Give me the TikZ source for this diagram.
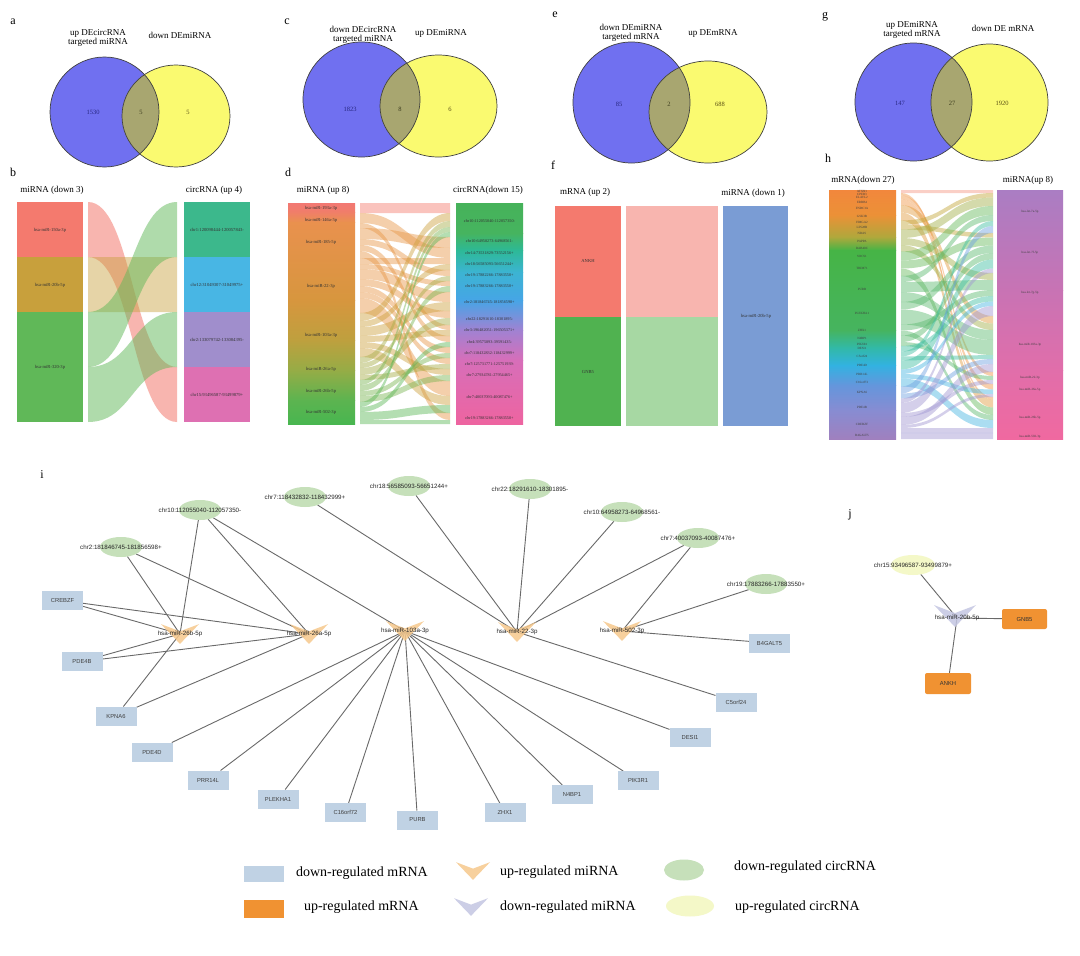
\documentclass[tikz,border=0pt]{standalone}
\usepackage{fontspec}
\setmainfont{Liberation Serif}
\newfontfamily\netfont{Liberation Sans}
\usetikzlibrary{shapes.geometric}
\pgfdeclarelayer{paper}
\pgfdeclarelayer{bg}
\pgfdeclarelayer{mid}
\pgfsetlayers{paper,bg,mid,main}
% venn
\definecolor{vblue}{RGB}{112,112,240}
\definecolor{vyel}{RGB}{250,250,112}
\definecolor{vmix}{RGB}{168,166,112}
\definecolor{nblue}{RGB}{40,40,130}
\definecolor{nmix}{RGB}{60,60,30}
\definecolor{nyel}{RGB}{90,80,20}
% sankey
\definecolor{sred}{RGB}{244,122,110}
\definecolor{sgold}{RGB}{200,160,60}
\definecolor{sgreen}{RGB}{96,184,88}
\definecolor{fgreen}{RGB}{80,178,80}
\definecolor{steal}{RGB}{60,184,140}
\definecolor{sblue}{RGB}{72,182,228}
\definecolor{spurp}{RGB}{160,142,204}
\definecolor{spink}{RGB}{222,112,178}
\definecolor{fblue}{RGB}{122,156,212}
\definecolor{dor}{RGB}{232,150,70}
\definecolor{dol}{RGB}{205,160,60}
\definecolor{dolg}{RGB}{165,172,70}
\definecolor{dgra}{RGB}{120,180,80}
\definecolor{dgrb}{RGB}{90,182,85}
\definecolor{dla}{RGB}{242,120,115}\definecolor{dlb}{RGB}{240,126,105}
\definecolor{dlc}{RGB}{233,145,78}\definecolor{dld}{RGB}{215,150,62}
\definecolor{dle}{RGB}{190,160,62}\definecolor{dlf}{RGB}{150,172,70}
\definecolor{dlg}{RGB}{92,180,80}\definecolor{dlh}{RGB}{72,182,80}
\definecolor{dra}{RGB}{70,178,90}\definecolor{drb}{RGB}{70,180,95}
\definecolor{drc}{RGB}{45,185,150}\definecolor{drd}{RGB}{60,180,210}
\definecolor{dre}{RGB}{70,165,230}\definecolor{drf}{RGB}{160,130,210}
\definecolor{drg}{RGB}{215,110,185}\definecolor{drh}{RGB}{238,100,160}
\definecolor{hla}{RGB}{242,135,60}\definecolor{hlb}{RGB}{235,145,55}
\definecolor{hlc}{RGB}{175,168,60}\definecolor{hld}{RGB}{70,180,70}
\definecolor{hle}{RGB}{70,180,95}\definecolor{hlf}{RGB}{50,185,165}
\definecolor{hlg}{RGB}{50,178,225}\definecolor{hlh}{RGB}{100,150,220}
\definecolor{hli}{RGB}{135,140,210}\definecolor{hlj}{RGB}{160,128,190}
\definecolor{hra}{RGB}{170,125,195}\definecolor{hrb}{RGB}{200,115,180}
\definecolor{hrc}{RGB}{225,110,170}\definecolor{hrd}{RGB}{240,105,160}
\definecolor{hca}{RGB}{245,150,130}\definecolor{hcb}{RGB}{240,150,70}
\definecolor{hcc}{RGB}{225,155,60}\definecolor{hcd}{RGB}{195,165,55}
\definecolor{hce}{RGB}{160,175,70}\definecolor{hcf}{RGB}{100,185,90}
\definecolor{hcg}{RGB}{90,185,110}\definecolor{hch}{RGB}{60,190,160}
\definecolor{hci}{RGB}{70,180,225}\definecolor{hcj}{RGB}{110,160,225}
\definecolor{hck}{RGB}{160,150,210}
% network
\definecolor{nodegreen}{RGB}{198,224,186}
\definecolor{nodeyel}{RGB}{244,248,200}
\definecolor{boxblue}{RGB}{192,210,228}
\definecolor{boxorange}{RGB}{240,146,50}
\definecolor{vup}{RGB}{246,200,140}
\definecolor{vdown}{RGB}{196,198,226}
\definecolor{edgegray}{RGB}{105,105,105}

\def\setoff#1#2{\expandafter\xdef\csname OF#1\endcsname{#2}}
\newcommand\band[7]{%
  \edef\bya{\csname OF#3\endcsname}%
  \pgfmathsetmacro\byb{\bya+#5}%
  \edef\byc{\csname OF#4\endcsname}%
  \pgfmathsetmacro\byd{\byc+#5}%
  \setoff{#3}{\byb}\setoff{#4}{\byd}%
  \pgfmathsetmacro\bxm{(#1+#2)/2}%
  \fill[#6,fill opacity=#7] (#1,\bya) .. controls (\bxm,\bya) and (\bxm,\byc) .. (#2,\byc) -- (#2,\byd) .. controls (\bxm,\byd) and (\bxm,\byb) .. (#1,\byb) -- cycle;%
}
\newcommand\vennpair[8]{%
  \fill[vblue] (#1,#2) ellipse [x radius=#3pt,y radius=#4pt];
  \fill[vyel] (#5,#6) ellipse [x radius=#7pt,y radius=#8pt];
  \begin{scope}
    \clip (#1,#2) ellipse [x radius=#3pt,y radius=#4pt];
    \fill[vmix] (#5,#6) ellipse [x radius=#7pt,y radius=#8pt];
  \end{scope}
  \draw[line width=0.7pt,black!75] (#1,#2) ellipse [x radius=#3pt,y radius=#4pt];
  \draw[line width=0.7pt,black!75] (#5,#6) ellipse [x radius=#7pt,y radius=#8pt];
}
\newcommand\vshape[3]{\fill[#2,fill opacity=0.85,shift={(#1)}] (-#3,-0.52*#3) -- (0,-0.14*#3) -- (#3,-0.52*#3) -- (0,0.52*#3) -- cycle;}

\begin{document}
\begin{tikzpicture}[x=1pt,y=-1pt,
  every node/.style={inner sep=0pt,outer sep=0pt},
  plabel/.style={font=\fontsize{12}{12}\selectfont},
  vlab/.style={font=\fontsize{9}{10}\selectfont,align=center},
  vnum/.style={font=\fontsize{6.5}{7}\selectfont},
  coltitle/.style={font=\fontsize{9}{10}\selectfont},
  slab/.style={font=\fontsize{4.6}{5}\selectfont,text=black!80},
  tlab/.style={font=\fontsize{3.2}{3.5}\selectfont,text=black!75},
  netlab/.style={font=\netfont\fontsize{6.2}{7}\selectfont,text=black!85},
  circnode/.style={ellipse,fill=nodegreen,minimum width=42pt,minimum height=20pt,netlab},
  ucircnode/.style={circnode,fill=nodeyel},
  mirlab/.style={netlab},
  genebox/.style={rectangle,fill=boxblue,minimum width=41pt,minimum height=19pt,font=\netfont\fontsize{5.8}{7}\selectfont,text=black!75},
  upbox/.style={genebox,fill=boxorange,rounded corners=2pt,minimum width=45pt,minimum height=20pt,text=black!80},
  edge/.style={draw=edgegray,line width=0.9pt},
  legtext/.style={anchor=west,font=\fontsize{14}{15}\selectfont}]
\useasboundingbox (0,0) rectangle (1080,956);
\begin{pgfonlayer}{paper}
\fill[white] (0,0) rectangle (1080,956);
\end{pgfonlayer}

% ---------- panel letters ----------
\node[plabel] (La) at (13,22) {a};
\node[plabel] (Lb) at (13,172) {b};
\node[plabel] (Lc) at (287,22) {c};
\node[plabel] (Ld) at (288,172) {d};
\node[plabel] (Le) at (555,15) {e};
\node[plabel] (Lf) at (553,165) {f};
\node[plabel] (Lg) at (825,17) {g};
\node[plabel] (Lh) at (828,158) {h};
\node[plabel] (Li) at (42,475) {i};
\node[plabel] (Lj) at (850,515) {j};

% ---------- Venn a ----------
\vennpair{104.5}{112}{54.5}{55}{176}{116}{54}{51}
\node[vlab] (a1) at (98,38) {up DEcircRNA\\[-1pt]targeted miRNA};
\node[vlab] (a2) at (180,35) {down DEmiRNA};
\node[vnum,text=nblue] (a3) at (93,112) {1530};
\node[vnum,text=nmix] (a4) at (141,112) {5};
\node[vnum,text=nyel] (a5) at (188,112) {5};
% ---------- Venn c ----------
\vennpair{361.5}{99.5}{58.5}{57.5}{438.5}{106}{58.5}{51}
\node[vlab] (c1t) at (363,35) {down DEcircRNA\\[-1pt]targeted miRNA};
\node[vlab] (c2t) at (441,33) {up DEmiRNA};
\node[vnum,text=nblue] (c3t) at (350,109) {1823};
\node[vnum,text=nmix] (c4t) at (400,109) {8};
\node[vnum,text=nyel] (c5t) at (450,109) {6};
% ---------- Venn e ----------
\vennpair{631.5}{102.5}{58.5}{60.5}{708}{112}{59}{51}
\node[vlab] (e1t) at (631,33) {down DEmiRNA\\[-1pt]targeted mRNA};
\node[vlab] (e2t) at (713,33) {up DEmRNA};
\node[vnum,text=nblue] (e3t) at (619,104) {85};
\node[vnum,text=nmix] (e4t) at (669,104) {2};
\node[vnum,text=nyel] (e5t) at (720,104) {688};
% ---------- Venn g ----------
\vennpair{913.5}{102}{58.5}{59}{989.5}{102.5}{58.5}{58.5}
\node[vlab] (g1t) at (912,30) {up DEmiRNA\\[-1pt]targeted mRNA};
\node[vlab] (g2t) at (1003,28) {down DE mRNA};
\node[vnum,text=nblue] (g3t) at (900,103) {147};
\node[vnum,text=nmix] (g4t) at (952,103) {27};
\node[vnum,text=nyel] (g5t) at (1002,103) {1920};

% ---------- Sankey b ----------
\node[coltitle] (bt1) at (52,190) {miRNA (down 3)};
\node[coltitle] (bt2) at (214,190) {circRNA (up 4)};
\fill[sred] (17,202) rectangle (83,257);
\fill[sgold] (17,257) rectangle (83,312);
\fill[sgreen] (17,312) rectangle (83,422);
\fill[steal] (184,202) rectangle (250,257);
\fill[sblue] (184,257) rectangle (250,312);
\fill[spurp] (184,312) rectangle (250,367);
\fill[spink] (184,367) rectangle (250,422);
\foreach \k/\v in {1/202,2/257,3/312}{\setoff{bL\k}{\v}}
\foreach \k/\v in {1/202,2/257,3/312,4/367}{\setoff{bR\k}{\v}}
\band{88}{177}{bL1}{bR4}{55}{sred}{0.55}
\band{88}{177}{bL2}{bR2}{55}{sgold}{0.45}
\band{88}{177}{bL3}{bR1}{55}{sgreen}{0.5}
\band{88}{177}{bL3}{bR3}{55}{sgreen}{0.5}
\node[slab] (bs1) at (50,230) {hsa-miR-150a-3p};
\node[slab] (bs2) at (50,285) {hsa-miR-20b-5p};
\node[slab] (bs3) at (50,367) {hsa-miR-320-3p};
\node[slab] (bs4) at (217,230) {chr1:120098444-120057843-};
\node[slab] (bs5) at (217,285) {chr12:31049307-31049975+};
\node[slab] (bs6) at (217,340) {chr2:133079742-133084395-};
\node[slab] (bs7) at (217,395) {chr15:93496587-93499879+};

% ---------- Sankey d ----------
\node[coltitle] (dt1) at (323,190) {miRNA (up 8)};
\node[coltitle] (dt2) at (488,190) {circRNA(down 15)};
\foreach \ya/\yb/\ca/\cb in {203/212/dla/dlb,212/222/dlb/dlc,222/300/dlc/dld,300/340/dld/dle,340/370/dle/dlf,370/400/dlf/dlg,400/424/dlg/dlh}
  {\shade[top color=\ca,bottom color=\cb] (288,\ya) rectangle (355,\yb+0.4);}
\foreach \ya/\yb/\ca/\cb in {203/233/dra/drb,233/250/drb/drc,250/272/drc/drd,272/300/drd/dre,300/330/dre/drf,330/360/drf/drg,360/424/drg/drh}
  {\shade[top color=\ca,bottom color=\cb] (456,\ya) rectangle (523,\yb+0.4);}
\foreach \k/\v in {1/203,2/213,3/228,4/258,5/313,6/357,7/380,8/402}{\setoff{dL\k}{\v}}
\foreach \k/\v in {1/203,2/237,3/248,4/258,5/270,6/281,7/292,8/311,9/325,10/336,11/347,12/358,13/369,14/381,15/413}{\setoff{dR\k}{\v}}
\foreach \s/\t/\w/\cc in {1/1/10/sred,2/3/10/dor,2/9/5/dor,3/2/11/dor,3/5/6/dor,3/10/6/dor,3/15/7/dor,4/4/6/dor,4/6/5/dor,4/7/10/dor,4/8/7/dor,4/11/6/dor,4/12/6/dor,4/14/15/dor,5/1/8/dol,5/4/6/dol,5/7/9/dol,5/9/6/dol,5/13/6/dol,5/14/9/dol,6/1/6/dolg,6/5/5/dolg,6/8/7/dolg,6/12/5/dolg,7/1/5/dgra,7/6/6/dgra,7/11/5/dgra,7/13/6/dgra,8/1/5/dgrb,8/10/5/dgrb,8/14/8/dgrb,8/15/4/dgrb}
  {\band{360}{450}{dL\s}{dR\t}{\w}{\cc}{0.45}}
\foreach \y/\t [count=\i] in {208/hsa-miR-193a-3p,220/hsa-miR-146a-5p,242/hsa-miR-185-5p,286/hsa-miR-22-3p,335/hsa-miR-103a-3p,369/hsa-miR-26a-5p,391/hsa-miR-26b-5p,412/hsa-miR-502-3p}
  {\node[slab] (dsl\i) at (321,\y) {\t};}
\foreach \y/\t [count=\i] in {221/chr10:112055040-112057350-,241/chr10:64958273-64968561-,253/chr14:73531829-73552156+,264/chr18:56585093-56651244+,275/chr19:17882266-17883550+,286/chr19:17883266-17883550+,302/chr2:181846745-181856598+,319/chr22:18291610-18301895-,330/chr3:196482051-196505371+,342/chr4:39575893-39591435-,353/chr7:118432832-118432999+,364/chr7:125731771-125751939-,375/chr7:27934781-27954465+,397/chr7:40037093-40087476+,418/chr19:17883266-17883550+}
  {\node[slab,font=\fontsize{4.2}{5}\selectfont] (dsr\i) at (489.5,\y) {\t};}

% ---------- Sankey f ----------
\node[coltitle] (ft1) at (585,192) {mRNA (up 2)};
\node[coltitle] (ft2) at (753,193) {miRNA (down 1)};
\fill[sred] (555,206) rectangle (621,317);
\fill[fgreen] (555,317) rectangle (621,426);
\fill[fblue] (723,206) rectangle (788,426);
\fill[sred,fill opacity=0.55] (626,206) rectangle (718,317);
\fill[sgreen,fill opacity=0.55] (626,317) rectangle (718,426);
\node[slab] (fs1) at (588,261) {ANKH};
\node[slab] (fs2) at (588,372) {GNB5};
\node[slab] (fs3) at (756,316) {hsa-miR-20b-5p};

% ---------- Sankey h ----------
\node[coltitle] (ht1) at (863,180) {mRNA(down 27)};
\node[coltitle] (ht2) at (1028,180) {miRNA(up 8)};
\foreach \ya/\yb/\ca/\cb in {190/215/hla/hlb,215/237/hlb/hlc,237/250/hlc/hld,250/330/hld/hle,330/347/hle/hlf,347/365/hlf/hlg,365/385/hlg/hlh,385/410/hlh/hli,410/439/hli/hlj}
  {\shade[top color=\ca,bottom color=\cb] (829,\ya) rectangle (896,\yb+0.4);}
\foreach \ya/\yb/\ca/\cb in {190/290/hra/hrb,290/370/hrb/hrc,370/439/hrc/hrd}
  {\shade[top color=\ca,bottom color=\cb] (997,\ya) rectangle (1063,\yb+0.4);}
\foreach \k/\v in {1/190,2/193,3/195.5,4/199.5,5/205,6/212.5,7/220.5,8/225,9/229.5,10/238,11/245,12/251.5,13/260.5,14/276,15/302,16/324.5,17/335.5,18/342,19/346,20/351.5,21/360.5,22/369.5,23/378.5,24/386.5,25/398.5,26/417,27/432}{\setoff{hL\k}{\v}}
\foreach \k/\v in {1/190,2/233,3/273,4/316,5/372,6/384,7/397,8/433}{\setoff{hR\k}{\v}}
\foreach \s/\t/\w/\cc in {1/1/3/hca,2/7/2.5/hcb,3/5/4/hcb,4/6/5.5/hcb,5/4/7.5/hcc,6/7/8/hcc,7/1/4.5/hcd,8/2/4.5/hcd,9/1/8.5/hce,10/3/7/hce,11/4/6.5/hce,12/1/9/hcf,13/2/8/hcf,13/7/7.5/hcf,14/1/6/hcg,14/3/10/hcg,14/4/10/hcg,15/2/7.5/hcg,15/4/15/hcg,16/3/6/hcg,16/7/5/hcg,17/2/6.5/hcg,18/5/4/hcg,19/3/5.5/hch,20/1/5/hch,20/4/4/hch,21/2/9/hch,22/3/4.5/hci,22/6/4.5/hci,23/7/8/hci,24/1/7/hcj,24/4/5/hcj,25/2/4.5/hck,25/3/10/hck,25/5/4/hck,26/4/8/hck,26/6/3/hck,26/7/4/hck,27/7/1/hck,27/8/6/hck}
  {\band{901}{993}{hL\s}{hR\t}{\w}{\cc}{0.45}}
\foreach \y/\t [count=\i] in {191.5/ATXN1,194.3/CPEB3,197.5/ELAVL2,202.3/ERBB4,208.8/FNDC3A,216.5/GSK3B,222.8/HMGA2,227.3/LIN28B,233.8/NRAS,241.5/PAPPA,248.3/RAB40C,256/SOCS1,268.3/TRIM71,289/PURB,313.3/PLEKHA1,330/ZHX1,338.8/N4BP1,344/PIK3R1,348.8/DESI1,356/C5orf24,365/PDE4D,374/PRR14L,382.5/C16orf72,392.5/KPNA6,407.8/PDE4B,424.5/CREBZF,435.5/B4GALT5}
  {\node[tlab] (hsl\i) at (862,\y) {\t};}
\foreach \y/\t [count=\i] in {212/hsa-let-7a-5p,253/hsa-let-7f-5p,293/hsa-let-7g-5p,345/hsa-miR-103a-3p,378/hsa-miR-22-3p,390/hsa-miR-26a-5p,418/hsa-miR-26b-5p,437/hsa-miR-502-3p}
  {\node[tlab] (hsr\i) at (1030,\y) {\t};}

% ---------- network i ----------
\node[circnode] (c1) at (200,510) {\makebox[0pt]{chr10:112055040-112057350-}};
\node[circnode] (c2) at (121,547) {\makebox[0pt]{chr2:181846745-181856598+}};
\node[circnode] (c3) at (305,497) {\makebox[0pt]{chr7:118432832-118432999+}};
\node[circnode] (c4) at (409,486) {\makebox[0pt]{chr18:56585093-56651244+}};
\node[circnode] (c5) at (530,489) {\makebox[0pt]{chr22:18291610-18301895-}};
\node[circnode] (c6) at (622,512) {\makebox[0pt]{chr10:64958273-64968561-}};
\node[circnode] (c7) at (698,538) {\makebox[0pt]{chr7:40037093-40087476+}};
\node[circnode] (c8) at (766,584) {\makebox[0pt]{chr19:17883266-17883550+}};
\node[mirlab] (m1) at (180,634) {\makebox[0pt]{hsa-miR-26b-5p}};
\node[mirlab] (m2) at (309,634) {\makebox[0pt]{hsa-miR-26a-5p}};
\node[mirlab] (m3) at (405,631) {\makebox[0pt]{hsa-miR-103a-3p}};
\node[mirlab] (m4) at (517,632) {\makebox[0pt]{hsa-miR-22-3p}};
\node[mirlab] (m5) at (622,631) {\makebox[0pt]{hsa-miR-502-3p}};
\node[genebox] (g1) at (62.5,600.5) {CREBZF};
\node[genebox] (g2) at (82,661.5) {PDE4B};
\node[genebox] (g3) at (116,716) {KPNA6};
\node[genebox] (g4) at (152,752) {PDE4D};
\node[genebox] (g5) at (208,780) {PRR14L};
\node[genebox] (g6) at (278,799) {PLEKHA1};
\node[genebox] (g7) at (345.5,812.5) {C16orf72};
\node[genebox] (g8) at (417.5,820) {PURB};
\node[genebox] (g9) at (505,812.5) {ZHX1};
\node[genebox] (g10) at (572,794.5) {N4BP1};
\node[genebox] (g11) at (638,780.5) {PIK3R1};
\node[genebox] (g12) at (690,737) {DESI1};
\node[genebox] (g13) at (736,702) {C5orf24};
\node[genebox] (g14) at (769.5,643) {B4GALT5};
\begin{pgfonlayer}{mid}
  \vshape{m1.center}{vup}{19}
  \vshape{m2.center}{vup}{19}
  \vshape{m3.center}{vup}{19}
  \vshape{m4.center}{vup}{19}
  \vshape{m5.center}{vup}{19}
\end{pgfonlayer}
\begin{pgfonlayer}{bg}
  \foreach \a/\b in {c1/m1,c1/m2,c1/m3,c2/m1,c2/m2,c3/m4,c4/m4,c5/m4,c6/m4,c7/m4,c7/m5,c8/m5,g1/m1,g1/m2,g2/m1,g2/m2,g3/m1,g3/m2,g4/m3,g5/m3,g6/m3,g7/m3,g8/m3,g9/m3,g10/m3,g11/m3,g12/m3,g13/m4,g14/m5}
    {\draw[edge] (\a) -- (\b.center);}
\end{pgfonlayer}

% ---------- network j ----------
\node[ucircnode,minimum width=44pt] (cj) at (913,565) {\makebox[0pt]{chr15:93496587-93499879+}};
\node[mirlab] (mj) at (957,618) {\makebox[0pt]{hsa-miR-20b-5p}};
\node[upbox] (gj1) at (1024.5,619) {GNB5};
\node[upbox,minimum width=46pt,minimum height=21pt] (gj2) at (948,683.5) {ANKH};
\begin{pgfonlayer}{mid}
  \vshape{955,616}{vdown}{21}
\end{pgfonlayer}
\begin{pgfonlayer}{bg}
  \foreach \a in {cj,gj1,gj2}{\draw[edge] (\a) -- (mj.center);}
\end{pgfonlayer}

% ---------- legend ----------
\node[genebox,minimum width=40pt,minimum height=16pt] (lg1) at (264,874) {};
\node[genebox,fill=boxorange,minimum width=40pt,minimum height=18pt] (lg2) at (264,909) {};
\coordinate (lv1) at (473,871);
\coordinate (lv2) at (471,907);
\vshape{lv1}{vup}{17}
\vshape{lv2}{vdown}{17}
\node[circnode,minimum width=40pt,minimum height=21pt] (lc1) at (684,870) {};
\node[ucircnode,minimum width=48pt,minimum height=21pt] (lc2) at (690,906) {};
\node[legtext] (lt1) at (296,873) {down-regulated mRNA};
\node[legtext] (lt2) at (304,907) {up-regulated mRNA};
\node[legtext] (lt3) at (500,872) {up-regulated miRNA};
\node[legtext] (lt4) at (500,907) {down-regulated miRNA};
\node[legtext] (lt5) at (734,867) {down-regulated circRNA};
\node[legtext] (lt6) at (735,907) {up-regulated circRNA};
\end{tikzpicture}
\end{document}
